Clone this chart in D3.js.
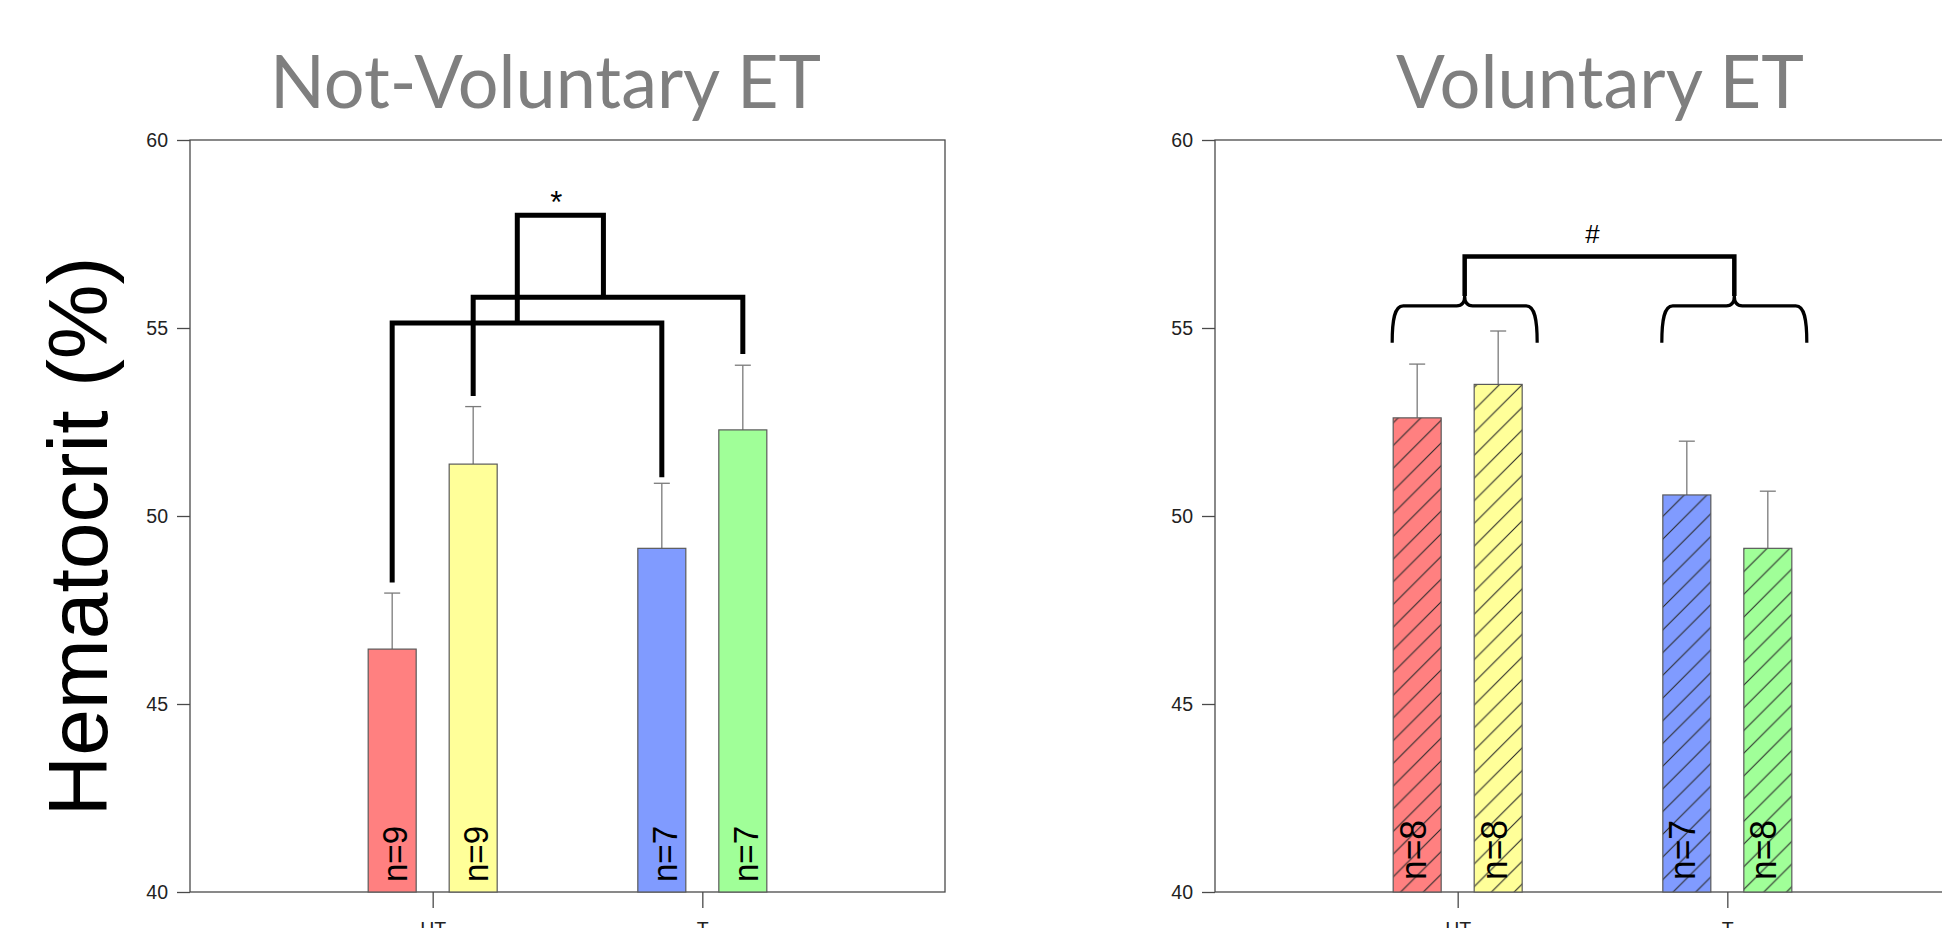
<!DOCTYPE html>
<html>
<head>
<meta charset="utf-8">
<script src="https://cdn.jsdelivr.net/npm/d3@7"></script>
<style>
  html, body { margin: 0; padding: 0; background: #fff; }
  svg { display: block; }
</style>
</head>
<body>
<svg id="chart" width="1942" height="928"></svg>
<script>
// ---- data ----
const categories = ["HT", "T"];
const yTicks = [40, 45, 50, 55, 60];
const barColors = ["#FF8080", "#FFFF99", "#809BFF", "#A0FF98"];

// bar order: HT-first, HT-second, T-first, T-second
const notVolMeans = [46.46, 51.38, 49.14, 52.29];
const notVolSE    = [1.49, 1.53, 1.73, 1.72];
const notVolN     = [9, 9, 7, 7];

const volMeans = [52.61, 53.50, 50.56, 49.14];
const volSE    = [1.43, 1.42, 1.43, 1.52];
const volN     = [8, 8, 7, 8];

// comparison brackets, Not-Voluntary ET (values in %)
const pairBars     = [[0, 2], [1, 3]];
const pairLevels   = [55.13, 55.82];
const pairLegEnds  = [[48.23, 51.03], [53.19, 54.31]];
const topLevel     = 58.0;
const topMark      = "*";

// group braces, Voluntary ET (values in %)
const braceLevel   = 55.59;
const braceEnd     = 54.61;
const braceCusp    = 55.85;
const braceTop     = 56.90;
const braceMark    = "#";

// ---- layout ----
const svg = d3.select("#chart");
const plotTop = 140, plotBottom = 892, frameW = 755;
const panels = [
  { title: "Not-Voluntary ET", left: 190, titleX: 545.5, titleW: 551, means: notVolMeans, se: notVolSE, n: notVolN,
    hatched: false, nSize: 35, nLen: 56, nOff: 15, nBase: 882 },
  { title: "Voluntary ET", left: 1215, titleX: 1600, titleW: 408, means: volMeans, se: volSE, n: volN,
    hatched: true, nSize: 37, nLen: 60, nOff: 8.5, nBase: 880 }
];

const y = d3.scaleLinear().domain([40, 60]).range([plotBottom, plotTop]);
const sub = d3.scaleBand().domain([0, 1]).range([-64.5, 64.5]).paddingInner(0.4074);

// hatch pattern for the voluntary bars
const defs = svg.append("defs");
const hs = 22.7;
const pat = defs.append("pattern").attr("id", "hatch")
  .attr("patternUnits", "userSpaceOnUse").attr("width", hs).attr("height", hs);
pat.append("path")
  .attr("d", `M0,${hs} L${hs},0 M${-hs/2},${hs/2} L${hs/2},${-hs/2} M${hs/2},${hs*1.5} L${hs*1.5},${hs/2}`)
  .attr("stroke", "#2a2a2a").attr("stroke-width", 1.1).attr("fill", "none");

svg.append("rect").attr("width", 1942).attr("height", 928).attr("fill", "#fff");

// y axis title
svg.append("text")
  .attr("transform", "translate(107,536.5) rotate(-90)")
  .attr("text-anchor", "middle")
  .attr("font-family", "Liberation Sans, Arial, sans-serif")
  .attr("font-size", 84)
  .attr("fill", "#000")
  .text("Hematocrit (%)");

panels.forEach((p, pi) => {
  const g = svg.append("g");
  const x = d3.scalePoint().domain(categories).range([p.left, p.left + frameW]).padding(0.9);
  const barX = i => x(categories[Math.floor(i / 2)]) + sub(i % 2);
  const barC = i => barX(i) + sub.bandwidth() / 2;

  // title
  g.append("text")
    .attr("x", p.titleX).attr("y", 108)
    .attr("text-anchor", "middle")
    .attr("font-family", "Lato, 'Open Sans', sans-serif")
    .attr("font-weight", 400)
    .attr("font-size", 74)
    .attr("textLength", p.titleW)
    .attr("lengthAdjust", "spacingAndGlyphs")
    .attr("fill", "#7f7f7f")
    .text(p.title);

  // frame
  g.append("rect")
    .attr("x", p.left).attr("y", plotTop)
    .attr("width", frameW).attr("height", plotBottom - plotTop)
    .attr("fill", "none").attr("stroke", "#4a4a4a").attr("stroke-width", 1.3);

  // y axis
  const yAxis = d3.axisLeft(y).tickValues(yTicks).tickSize(13).tickPadding(9).tickFormat(d3.format("d"));
  const ya = g.append("g").attr("transform", `translate(${p.left},0)`).call(yAxis);
  ya.select(".domain").remove();
  ya.selectAll("line").attr("stroke", "#4a4a4a").attr("stroke-width", 1.3);
  ya.selectAll("text").attr("font-family", "Liberation Sans, Arial, sans-serif")
    .attr("font-size", 19.5).attr("fill", "#222");

  // x axis
  const xAxis = d3.axisBottom(x).tickSize(16).tickPadding(14);
  const xa = g.append("g").attr("transform", `translate(0,${plotBottom})`).call(xAxis);
  xa.select(".domain").remove();
  xa.selectAll("line").attr("stroke", "#4a4a4a").attr("stroke-width", 1.3);
  xa.selectAll("text").attr("font-family", "Liberation Sans, Arial, sans-serif")
    .attr("font-size", 19.5).attr("fill", "#222");

  const idx = d3.range(p.means.length);

  // error bars (upper only)
  const eb = g.append("g").attr("stroke", "#7a7a7a").attr("stroke-width", 1.3);
  eb.selectAll("line.v").data(idx).join("line").attr("class", "v")
    .attr("x1", barC).attr("x2", barC)
    .attr("y1", i => y(p.means[i])).attr("y2", i => y(p.means[i] + p.se[i]));
  eb.selectAll("line.c").data(idx).join("line").attr("class", "c")
    .attr("x1", i => barC(i) - 8).attr("x2", i => barC(i) + 8)
    .attr("y1", i => y(p.means[i] + p.se[i])).attr("y2", i => y(p.means[i] + p.se[i]));

  // bars
  g.selectAll("rect.bar").data(idx).join("rect").attr("class", "bar")
    .attr("x", barX).attr("width", sub.bandwidth())
    .attr("y", i => y(p.means[i])).attr("height", i => y(40) - y(p.means[i]))
    .attr("fill", i => barColors[i]);
  if (p.hatched) {
    g.selectAll("rect.hatch").data(idx).join("rect").attr("class", "hatch")
      .attr("x", barX).attr("width", sub.bandwidth())
      .attr("y", i => y(p.means[i])).attr("height", i => y(40) - y(p.means[i]))
      .attr("fill", "url(#hatch)");
  }
  g.selectAll("rect.edge").data(idx).join("rect").attr("class", "edge")
    .attr("x", barX).attr("width", sub.bandwidth())
    .attr("y", i => y(p.means[i])).attr("height", i => y(40) - y(p.means[i]))
    .attr("fill", "none").attr("stroke", "#5a5a5a").attr("stroke-width", 1.2);

  // sample sizes
  g.selectAll("text.n").data(idx).join("text").attr("class", "n")
    .attr("transform", i => `translate(${barC(i) + p.nOff},${p.nBase}) rotate(-90)`)
    .attr("font-family", "Liberation Sans, Arial, sans-serif")
    .attr("font-size", p.nSize)
    .attr("textLength", p.nLen)
    .attr("lengthAdjust", "spacingAndGlyphs")
    .attr("fill", "#000")
    .text(i => "n=" + p.n[i]);

  if (pi === 0) {
    // paired brackets and the bracket linking them
    const br = g.append("g").attr("fill", "none").attr("stroke", "#000").attr("stroke-width", 5)
      .attr("stroke-linejoin", "miter");
    const mids = [];
    pairBars.forEach((pr, k) => {
      const xa0 = barC(pr[0]), xa1 = barC(pr[1]);
      const yl = y(pairLevels[k]);
      br.append("path")
        .attr("d", `M${xa0},${y(pairLegEnds[k][0])} L${xa0},${yl} L${xa1},${yl} L${xa1},${y(pairLegEnds[k][1])}`);
      mids.push(xa0 + (xa1 - xa0) * (k === 0 ? 0.464 : 0.483));
    });
    const yt = y(topLevel);
    br.append("path")
      .attr("d", `M${mids[0]},${y(pairLevels[0])} L${mids[0]},${yt} L${mids[1]},${yt} L${mids[1]},${y(pairLevels[1])}`);
    g.append("text")
      .attr("x", (mids[0] + mids[1]) / 2 - 4).attr("y", yt - 2)
      .attr("text-anchor", "middle")
      .attr("font-family", "Liberation Sans, Arial, sans-serif")
      .attr("font-size", 31).attr("fill", "#000")
      .text(topMark);
  } else {
    // curly braces over each group, joined by a bar
    const yH = y(braceLevel), yB = y(braceEnd), yC = y(braceCusp), yT = y(braceTop);
    const hw = 72.5;
    const centers = categories.map(c => x(c) + 7);
    const bg = g.append("g").attr("fill", "none").attr("stroke", "#000");
    centers.forEach(cx => {
      const x0 = cx - hw, x1 = cx + hw;
      bg.append("path").attr("stroke-width", 3.2)
        .attr("d",
          `M${x0},${yB} C${x0},${yB - 22} ${x0 + 2},${yH} ${x0 + 11},${yH} ` +
          `L${cx - 8},${yH} C${cx - 3},${yH} ${cx},${yH - 3} ${cx},${yC} ` +
          `C${cx},${yH - 3} ${cx + 3},${yH} ${cx + 8},${yH} ` +
          `L${x1 - 11},${yH} C${x1 - 2},${yH} ${x1},${yB - 22} ${x1},${yB}`);
    });
    bg.append("path").attr("stroke-width", 4.5)
      .attr("d", `M${centers[0]},${yC} L${centers[0]},${yT} L${centers[1]},${yT} L${centers[1]},${yC}`);
    g.append("text")
      .attr("x", (centers[0] + centers[1]) / 2 - 7).attr("y", yT - 14)
      .attr("text-anchor", "middle")
      .attr("font-family", "Liberation Sans, Arial, sans-serif")
      .attr("font-size", 26).attr("fill", "#000")
      .text(braceMark);
  }
});
</script>
</body>
</html>
